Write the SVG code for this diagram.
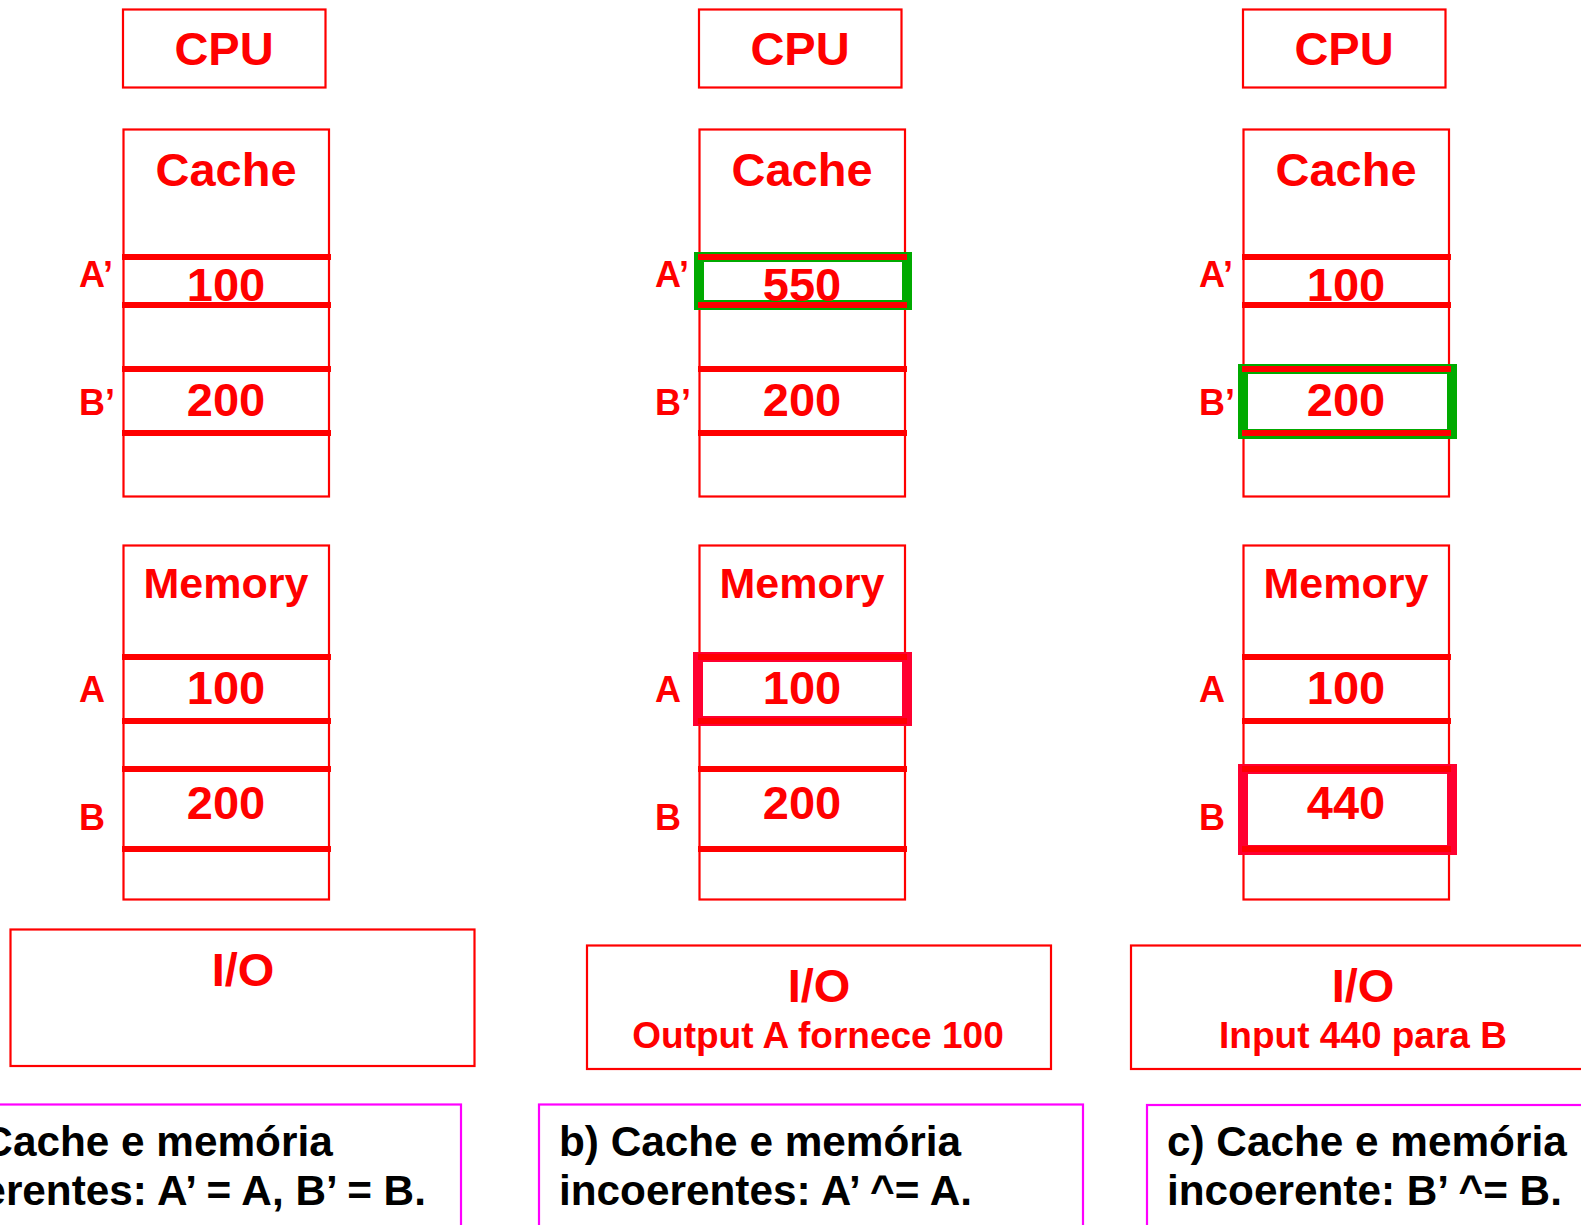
<svg xmlns="http://www.w3.org/2000/svg" width="1581" height="1225" viewBox="0 0 1581 1225">
  <style>
    .box { fill: #ffffff; stroke: #ff0000; stroke-width: 2.2; }
    .row { stroke: #ff0000; stroke-width: 6; }
    .hl-green { fill: none; stroke: #00aa00; stroke-width: 10; }
    .hl-red { fill: none; stroke: #ff0030; stroke-width: 10; }
    .cap { fill: #ffffff; stroke: #ff00ff; stroke-width: 2.2; }
    text { font-family: "Liberation Sans", Arial, Helvetica, sans-serif; font-weight: bold; }
    .title { fill: #ff0000; font-size: 47px; text-anchor: middle; }
    .mem { fill: #ff0000; font-size: 43px; text-anchor: middle; }
    .val { fill: #ff0000; font-size: 47px; text-anchor: middle; }
    .lbl { fill: #ff0000; font-size: 36px; }
    .sub { fill: #ff0000; font-size: 37px; text-anchor: middle; }
    .note { fill: #000000; font-size: 42.3px; }
  </style>

  <!-- Column a: coherent cache and memory -->
  <g id="cpu-a">
    <rect class="box" x="123" y="9.5" width="202.5" height="78"/>
    <text class="title" x="224" y="65">CPU</text>
  </g>
  <g id="cache-a">
    <rect class="box" x="123.5" y="129.5" width="205.5" height="367"/>
    <line class="row" x1="122" y1="257" x2="331" y2="257"/>
    <line class="row" x1="122" y1="305" x2="331" y2="305"/>
    <line class="row" x1="122" y1="369" x2="331" y2="369"/>
    <line class="row" x1="122" y1="433" x2="331" y2="433"/>
    <text class="title" x="226" y="186">Cache</text>
    <text class="val" x="226" y="301">100</text>
    <text class="val" x="226" y="416">200</text>
    <text class="lbl" x="79" y="287">A’</text>
    <text class="lbl" x="79" y="415">B’</text>
  </g>
  <g id="memory-a">
    <rect class="box" x="123.5" y="545.5" width="205.5" height="354"/>
    <line class="row" x1="122" y1="657" x2="331" y2="657"/>
    <line class="row" x1="122" y1="721" x2="331" y2="721"/>
    <line class="row" x1="122" y1="769" x2="331" y2="769"/>
    <line class="row" x1="122" y1="849" x2="331" y2="849"/>
    <text class="mem" x="226" y="598">Memory</text>
    <text class="val" x="226" y="704">100</text>
    <text class="val" x="226" y="819">200</text>
    <text class="lbl" x="79" y="702">A</text>
    <text class="lbl" x="79" y="830">B</text>
  </g>
  <g id="io-a">
    <rect class="box" x="10.5" y="929.5" width="464" height="136.5"/>
    <text class="title" x="243" y="986">I/O</text>
  </g>
  <g id="caption-a">
    <rect class="cap" x="-83" y="1104.5" width="544" height="200"/>
    <text class="note" x="-67" y="1156">a) Cache e memória</text>
    <text class="note" x="-67" y="1205">coerentes: A’ = A, B’ = B.</text>
  </g>

  <!-- Column b: CPU wrote A' in cache, I/O reads stale A -->
  <g id="cpu-b">
    <rect class="box" x="699" y="9.5" width="202.5" height="78"/>
    <text class="title" x="800" y="65">CPU</text>
  </g>
  <g id="cache-b">
    <rect class="box" x="699.5" y="129.5" width="205.5" height="367"/>
    <rect class="hl-green" x="699" y="257" width="208" height="48"/>
    <line class="row" x1="698" y1="257" x2="907" y2="257"/>
    <line class="row" x1="698" y1="305" x2="907" y2="305"/>
    <line class="row" x1="698" y1="369" x2="907" y2="369"/>
    <line class="row" x1="698" y1="433" x2="907" y2="433"/>
    <text class="title" x="802" y="186">Cache</text>
    <text class="val" x="802" y="301">550</text>
    <text class="val" x="802" y="416">200</text>
    <text class="lbl" x="655" y="287">A’</text>
    <text class="lbl" x="655" y="415">B’</text>
  </g>
  <g id="memory-b">
    <rect class="box" x="699.5" y="545.5" width="205.5" height="354"/>
    <rect class="hl-red" x="698" y="657" width="209" height="64"/>
    <line class="row" x1="698" y1="657" x2="907" y2="657"/>
    <line class="row" x1="698" y1="721" x2="907" y2="721"/>
    <line class="row" x1="698" y1="769" x2="907" y2="769"/>
    <line class="row" x1="698" y1="849" x2="907" y2="849"/>
    <text class="mem" x="802" y="598">Memory</text>
    <text class="val" x="802" y="704">100</text>
    <text class="val" x="802" y="819">200</text>
    <text class="lbl" x="655" y="702">A</text>
    <text class="lbl" x="655" y="830">B</text>
  </g>
  <g id="io-b">
    <rect class="box" x="587" y="945.5" width="464" height="123.5"/>
    <text class="title" x="819" y="1002">I/O</text>
    <text class="sub" x="818" y="1048">Output A fornece 100</text>
  </g>
  <g id="caption-b">
    <rect class="cap" x="539" y="1104.5" width="544" height="200"/>
    <text class="note" x="559" y="1156">b) Cache e memória</text>
    <text class="note" x="559" y="1205">incoerentes: A’ ^= A.</text>
  </g>

  <!-- Column c: I/O wrote B in memory, cache keeps stale B' -->
  <g id="cpu-c">
    <rect class="box" x="1243" y="9.5" width="202.5" height="78"/>
    <text class="title" x="1344" y="65">CPU</text>
  </g>
  <g id="cache-c">
    <rect class="box" x="1243.5" y="129.5" width="205.5" height="367"/>
    <rect class="hl-green" x="1243" y="369" width="209" height="65"/>
    <line class="row" x1="1242" y1="257" x2="1451" y2="257"/>
    <line class="row" x1="1242" y1="305" x2="1451" y2="305"/>
    <line class="row" x1="1242" y1="369" x2="1451" y2="369"/>
    <line class="row" x1="1242" y1="433" x2="1451" y2="433"/>
    <text class="title" x="1346" y="186">Cache</text>
    <text class="val" x="1346" y="301">100</text>
    <text class="val" x="1346" y="416">200</text>
    <text class="lbl" x="1199" y="287">A’</text>
    <text class="lbl" x="1199" y="415">B’</text>
  </g>
  <g id="memory-c">
    <rect class="box" x="1243.5" y="545.5" width="205.5" height="354"/>
    <rect class="hl-red" x="1243" y="769" width="209" height="81"/>
    <line class="row" x1="1242" y1="657" x2="1451" y2="657"/>
    <line class="row" x1="1242" y1="721" x2="1451" y2="721"/>
    <line class="row" x1="1242" y1="769" x2="1451" y2="769"/>
    <line class="row" x1="1242" y1="849" x2="1451" y2="849"/>
    <text class="mem" x="1346" y="598">Memory</text>
    <text class="val" x="1346" y="704">100</text>
    <text class="val" x="1346" y="819">440</text>
    <text class="lbl" x="1199" y="702">A</text>
    <text class="lbl" x="1199" y="830">B</text>
  </g>
  <g id="io-c">
    <rect class="box" x="1131" y="945.5" width="464" height="123.5"/>
    <text class="title" x="1363" y="1002">I/O</text>
    <text class="sub" x="1363" y="1048">Input 440 para B</text>
  </g>
  <g id="caption-c">
    <rect class="cap" x="1147" y="1105" width="544" height="200"/>
    <text class="note" x="1167" y="1156">c) Cache e memória</text>
    <text class="note" x="1167" y="1205">incoerente: B’ ^= B.</text>
  </g>

  <!-- No connectors are drawn between the units -->
  <g id="connectors"/>
</svg>
